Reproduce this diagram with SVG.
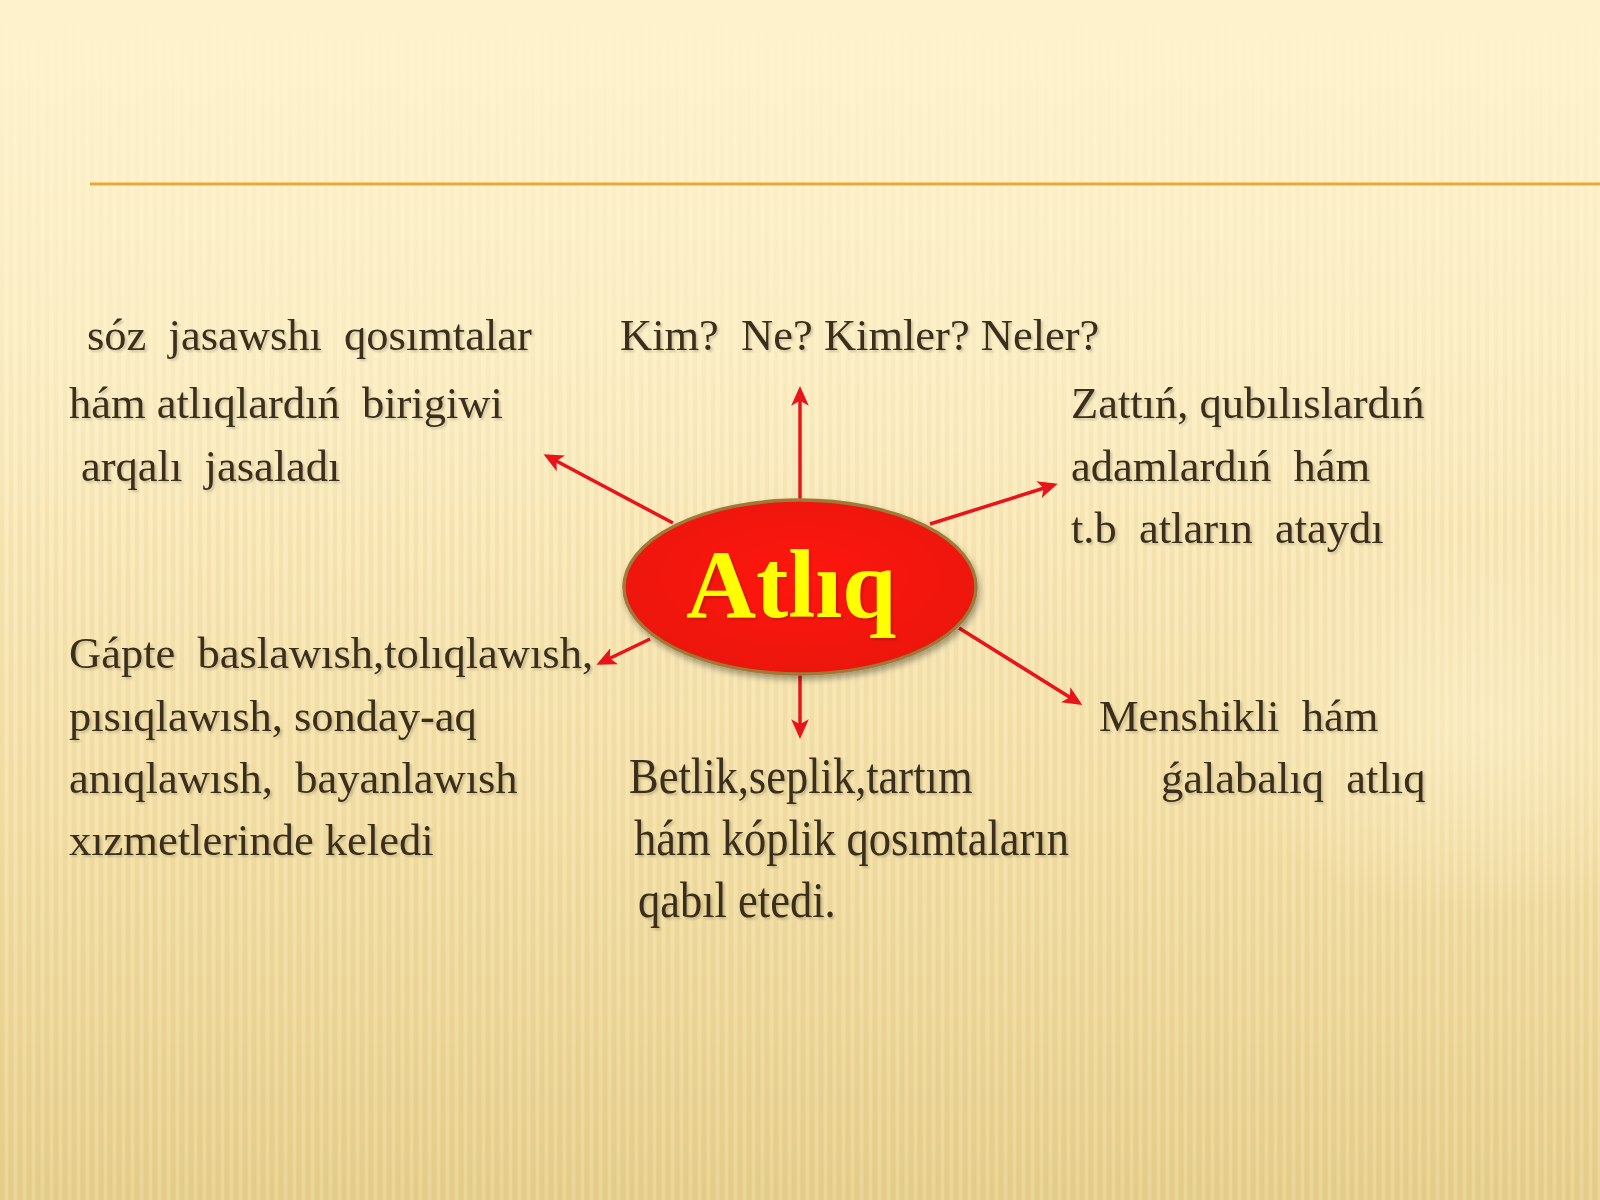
<svg xmlns="http://www.w3.org/2000/svg" width="1600" height="1200" viewBox="0 0 1600 1200">
<defs>
<linearGradient id="bg" x1="0" y1="0" x2="0" y2="1">
<stop offset="0" stop-color="#fdf1c9"/>
<stop offset="0.35" stop-color="#fbecc0"/>
<stop offset="0.7" stop-color="#f3dfa6"/>
<stop offset="1" stop-color="#e7cf8d"/>
</linearGradient>
<linearGradient id="fadeTop" x1="0" y1="0" x2="0" y2="1">
<stop offset="0" stop-color="#fdf2cc" stop-opacity="1"/>
<stop offset="0.15" stop-color="#fdf2cc" stop-opacity="0.7"/>
<stop offset="0.45" stop-color="#fdf2cc" stop-opacity="0"/>
</linearGradient>
<radialGradient id="spot" cx="0.5" cy="0.5" r="0.5">
<stop offset="0" stop-color="#fff6d6" stop-opacity="0.5"/>
<stop offset="1" stop-color="#fff6d6" stop-opacity="0"/>
</radialGradient>
<pattern id="stripes" width="9" height="20" patternUnits="userSpaceOnUse">
<rect x="0" y="0" width="4" height="20" fill="#c9a85a" opacity="0.09"/>
<rect x="5" y="0" width="3" height="20" fill="#fff8dc" opacity="0.16"/>
</pattern>
<radialGradient id="ellFill" cx="0.5" cy="0.45" r="0.55">
<stop offset="0" stop-color="#ff1a0d"/>
<stop offset="1" stop-color="#ec1208"/>
</radialGradient>
<marker id="ah" viewBox="0 0 10 10" refX="8" refY="5" markerWidth="5.6" markerHeight="5.6" orient="auto" markerUnits="strokeWidth">
<path d="M0,0.5 L10,5 L0,9.5 L2.5,5 Z" fill="#e8141a"/>
</marker>
<filter id="sh" x="-10%" y="-10%" width="120%" height="130%">
<feGaussianBlur in="SourceAlpha" stdDeviation="3"/>
<feOffset dx="2" dy="4" result="b"/>
<feComponentTransfer><feFuncA type="linear" slope="0.35"/></feComponentTransfer>
<feMerge><feMergeNode/><feMergeNode in="SourceGraphic"/></feMerge>
</filter>
<filter id="tsh" x="-5%" y="-10%" width="110%" height="130%">
<feGaussianBlur in="SourceAlpha" stdDeviation="1.2"/>
<feOffset dx="2" dy="2" result="b"/>
<feComponentTransfer><feFuncA type="linear" slope="0.18"/></feComponentTransfer>
<feMerge><feMergeNode/><feMergeNode in="SourceGraphic"/></feMerge>
</filter>
</defs>
<style>
.t{font-family:"Liberation Serif","Times New Roman",serif;font-size:44.5px;fill:#3b2f1b;white-space:pre}
.arr{stroke:#e8141a;stroke-width:3.5;fill:none;marker-end:url(#ah)}
</style>
<rect width="1600" height="1200" fill="url(#bg)"/>
<rect width="1600" height="1200" fill="url(#stripes)"/>
<rect width="1600" height="1200" fill="url(#fadeTop)"/>
<ellipse cx="1480" cy="720" rx="260" ry="200" fill="url(#spot)"/>
<line x1="90" y1="184" x2="1600" y2="184" stroke="#e8a83a" stroke-width="3"/>

<g id="connectors">
<line class="arr" x1="800" y1="499" x2="800" y2="390"/>
<line class="arr" x1="673" y1="523" x2="547" y2="456"/>
<line class="arr" x1="930" y1="524" x2="1054" y2="485"/>
<line class="arr" x1="650" y1="639" x2="600" y2="663"/>
<line class="arr" x1="800" y1="675" x2="800" y2="735"/>
<line class="arr" x1="959" y1="628" x2="1079" y2="703"/>
</g>

<g id="center">
<ellipse cx="800" cy="587" rx="176" ry="87" fill="url(#ellFill)" stroke="#a07838" stroke-width="3.5" filter="url(#sh)"/>
<text x="791" y="617" text-anchor="middle" font-family="'Liberation Serif','Times New Roman',serif" font-weight="bold" font-size="97" fill="#ffff00" filter="url(#tsh)">Atlıq</text>
</g>

<g id="node-top-left" filter="url(#tsh)">
<text class="t" x="87" y="350" xml:space="preserve">sóz  jasawshı  qosımtalar</text>
<text class="t" x="69" y="418" xml:space="preserve">hám atlıqlardıń  birigiwi</text>
<text class="t" x="81" y="481" xml:space="preserve">arqalı  jasaladı</text>
</g>

<g id="node-top" filter="url(#tsh)">
<text class="t" x="620" y="350" xml:space="preserve">Kim?  Ne? Kimler? Neler?</text>
</g>

<g id="node-top-right" filter="url(#tsh)">
<text class="t" x="1071" y="418" xml:space="preserve">Zattıń, qubılıslardıń</text>
<text class="t" x="1071" y="481" xml:space="preserve">adamlardıń  hám</text>
<text class="t" x="1071" y="543" xml:space="preserve">t.b  atların  ataydı</text>
</g>

<g id="node-bottom-left" filter="url(#tsh)">
<text class="t" x="69" y="668" xml:space="preserve">Gápte  baslawısh,tolıqlawısh,</text>
<text class="t" x="69" y="731" xml:space="preserve">pısıqlawısh, sonday-aq</text>
<text class="t" x="69" y="793" xml:space="preserve">anıqlawısh,  bayanlawısh</text>
<text class="t" x="69" y="855" xml:space="preserve">xızmetlerinde keledi</text>
</g>

<g id="node-bottom" filter="url(#tsh)">
<text class="t" transform="translate(629 793) scale(1 1.12)">Betlik,seplik,tartım</text>
<text class="t" transform="translate(634 855) scale(1 1.12)">hám kóplik qosımtaların</text>
<text class="t" transform="translate(638 917) scale(1 1.12)">qabıl etedi.</text>
</g>

<g id="node-bottom-right" filter="url(#tsh)">
<text class="t" x="1099" y="731" xml:space="preserve">Menshikli  hám</text>
<text class="t" x="1161" y="793" xml:space="preserve">ǵalabalıq  atlıq</text>
</g>
</svg>
